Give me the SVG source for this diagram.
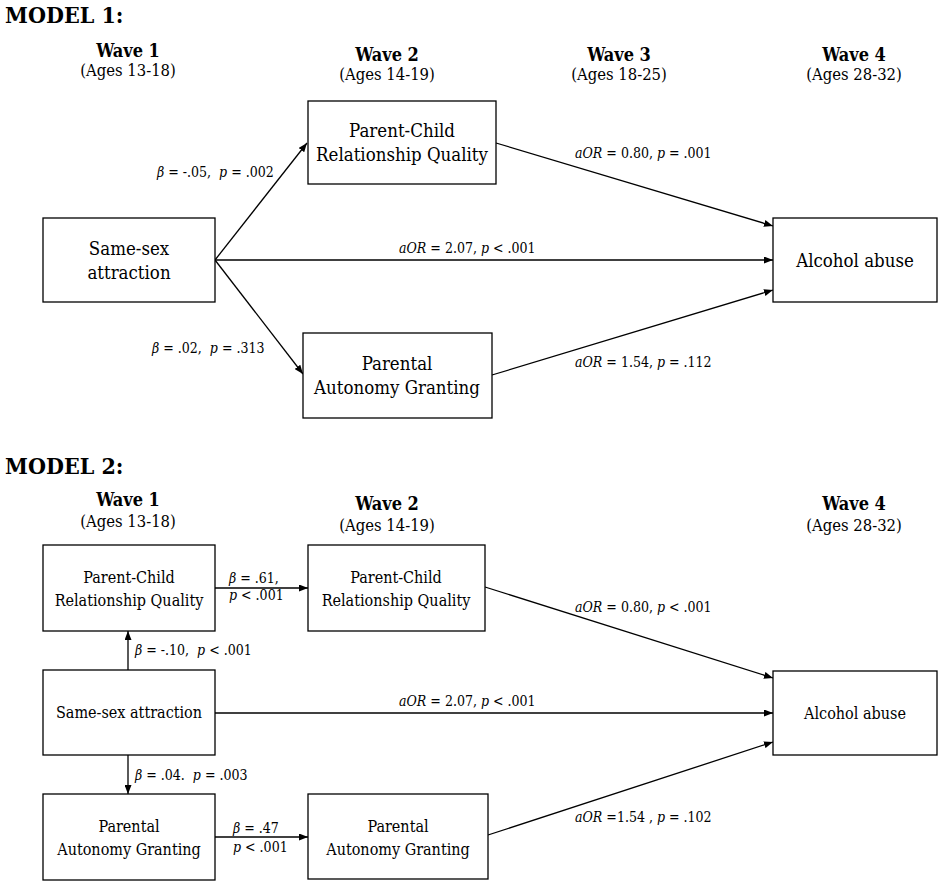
<svg xmlns="http://www.w3.org/2000/svg" width="942" height="885" viewBox="0 0 942 885">
<defs>
<marker id="ah" markerUnits="userSpaceOnUse" markerWidth="9" markerHeight="7" refX="9" refY="3.5" orient="auto">
<path d="M0,0 L9,3.5 L0,7 z" fill="#000"/>
</marker>
<style>
text{font-family:'DejaVu Serif Condensed','DejaVu Serif',serif;font-stretch:condensed;fill:#000}
.title{font-size:23px;font-weight:bold}
.wave{font-size:18px;font-weight:bold;text-anchor:middle}
.ages{font-size:16.5px;text-anchor:middle}
.n1{font-size:18.5px;text-anchor:middle}
.n2{font-size:16px;text-anchor:middle}
.lbl{font-size:14px}
.i{font-style:italic}
rect{fill:#fff;stroke:#000;stroke-width:1.3}
.c line{stroke:#000;stroke-width:1.3;marker-end:url(#ah)}
</style>
</defs>
<rect x="0" y="0" width="942" height="885" style="stroke:none;fill:#fff"/>

<text class="title" x="5" y="23">MODEL 1:</text>
<text class="wave" x="128" y="57">Wave 1</text>
<text class="ages" x="128" y="76">(Ages 13-18)</text>
<text class="wave" x="387" y="61">Wave 2</text>
<text class="ages" x="387" y="80">(Ages 14-19)</text>
<text class="wave" x="619" y="61">Wave 3</text>
<text class="ages" x="619" y="80">(Ages 18-25)</text>
<text class="wave" x="854" y="61">Wave 4</text>
<text class="ages" x="854" y="80">(Ages 28-32)</text>

<g class="c" id="connectors1">
<line x1="215" y1="260" x2="307" y2="143"/>
<line x1="215" y1="260" x2="303" y2="374"/>
<line x1="215" y1="260" x2="773" y2="260"/>
<line x1="496" y1="143" x2="773" y2="226"/>
<line x1="492" y1="375" x2="773" y2="290"/>
</g>

<g id="m1-ssa"><rect x="43" y="218" width="172" height="84"/>
<text class="n1" x="129" y="255">Same-sex</text><text class="n1" x="129" y="279">attraction</text></g>
<g id="m1-pcrq"><rect x="308" y="101" width="188" height="83"/>
<text class="n1" x="402" y="137">Parent-Child</text><text class="n1" x="402" y="161">Relationship Quality</text></g>
<g id="m1-pag"><rect x="303" y="333" width="189" height="85"/>
<text class="n1" x="397" y="370">Parental</text><text class="n1" x="397" y="394">Autonomy Granting</text></g>
<g id="m1-alc"><rect x="773" y="218" width="164" height="84"/>
<text class="n1" x="855" y="267">Alcohol abuse</text></g>

<text class="lbl" x="157" y="177"><tspan class="i">β</tspan> = -.05, &#160;<tspan class="i">p</tspan> = .002</text>
<text class="lbl" x="152" y="353"><tspan class="i">β</tspan> = .02, &#160;<tspan class="i">p</tspan> = .313</text>
<text class="lbl" x="399" y="253"><tspan class="i">aOR</tspan> = 2.07, <tspan class="i">p</tspan> &lt; .001</text>
<text class="lbl" x="575" y="158"><tspan class="i">aOR</tspan> = 0.80, <tspan class="i">p</tspan> = .001</text>
<text class="lbl" x="575" y="367"><tspan class="i">aOR</tspan> = 1.54, <tspan class="i">p</tspan> = .112</text>

<text class="title" x="5" y="474">MODEL 2:</text>
<text class="wave" x="128" y="506">Wave 1</text>
<text class="ages" x="128" y="527">(Ages 13-18)</text>
<text class="wave" x="387" y="510">Wave 2</text>
<text class="ages" x="387" y="531">(Ages 14-19)</text>
<text class="wave" x="854" y="510">Wave 4</text>
<text class="ages" x="854" y="531">(Ages 28-32)</text>

<g class="c" id="connectors2">
<line x1="215" y1="588" x2="308" y2="588"/>
<line x1="128" y1="670" x2="128" y2="631"/>
<line x1="128" y1="755" x2="128" y2="794"/>
<line x1="215" y1="713" x2="773" y2="713"/>
<line x1="215" y1="837" x2="308" y2="837"/>
<line x1="485" y1="587" x2="773" y2="678"/>
<line x1="488" y1="835" x2="773" y2="742"/>
</g>

<g id="m2-pcrq1"><rect x="43" y="545" width="172" height="86"/>
<text class="n2" x="129" y="583">Parent-Child</text><text class="n2" x="129" y="606">Relationship Quality</text></g>
<g id="m2-pcrq2"><rect x="308" y="545" width="177" height="86"/>
<text class="n2" x="396" y="583">Parent-Child</text><text class="n2" x="396" y="606">Relationship Quality</text></g>
<g id="m2-ssa"><rect x="43" y="670" width="172" height="85"/>
<text class="n2" x="129" y="718">Same-sex attraction</text></g>
<g id="m2-pag1"><rect x="43" y="794" width="172" height="86"/>
<text class="n2" x="129" y="832">Parental</text><text class="n2" x="129" y="855">Autonomy Granting</text></g>
<g id="m2-pag2"><rect x="308" y="794" width="180" height="85"/>
<text class="n2" x="398" y="832">Parental</text><text class="n2" x="398" y="855">Autonomy Granting</text></g>
<g id="m2-alc"><rect x="773" y="671" width="164" height="84"/>
<text class="n2" x="855" y="719">Alcohol abuse</text></g>

<text class="lbl" x="229" y="583"><tspan class="i">β</tspan> = .61,</text>
<text class="lbl" x="229" y="600"><tspan class="i">p</tspan> &lt; .001</text>
<text class="lbl" x="135" y="655"><tspan class="i">β</tspan> = -.10, &#160;<tspan class="i">p</tspan> &lt; .001</text>
<text class="lbl" x="135" y="780"><tspan class="i">β</tspan> = .04. &#160;<tspan class="i">p</tspan> = .003</text>
<text class="lbl" x="233" y="833"><tspan class="i">β</tspan> = .47</text>
<text class="lbl" x="233" y="852"><tspan class="i">p</tspan> &lt; .001</text>
<text class="lbl" x="399" y="706"><tspan class="i">aOR</tspan> = 2.07, <tspan class="i">p</tspan> &lt; .001</text>
<text class="lbl" x="575" y="612"><tspan class="i">aOR</tspan> = 0.80, <tspan class="i">p</tspan> &lt; .001</text>
<text class="lbl" x="575" y="822"><tspan class="i">aOR</tspan> =1.54 , <tspan class="i">p</tspan> = .102</text>
</svg>
